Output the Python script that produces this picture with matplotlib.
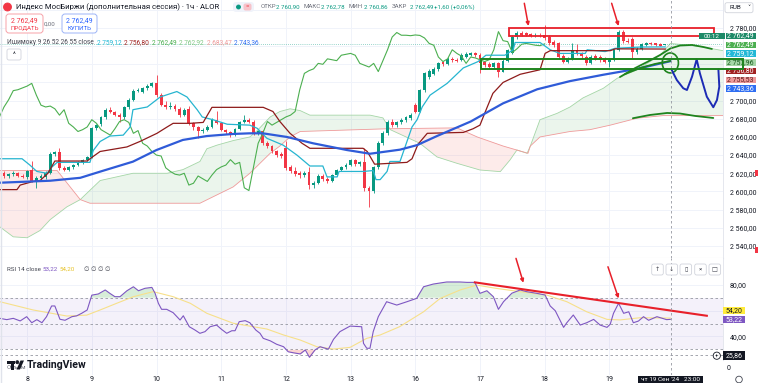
import numpy as np
import matplotlib
matplotlib.use('Agg')
import matplotlib.pyplot as plt
from matplotlib.patches import Rectangle, FancyBboxPatch, Ellipse

plt.rcParams['font.family'] = ['Roboto', 'DejaVu Sans']

# ---------------- data ----------------
opens = [2620,2617,2619,2620,2617,2616,2624,2612,2615,2616,
         2620,2641,2643,2626,2624,2627,2629,2631,2635,2638,
         2670,2674,2682,2690,2687,2684,2682,2693,2701,2711,
         2710,2714,2716,2719,2706,2695,2693,2694,2691,2684,
         2691,2675,2671,2666,2668,2671,2679,2675,2668,2665,
         2662,2669,2677,2679,2677,2664,2667,2653,2650,2644,
         2641,2648,2627,2622,2620,2618,2621,2607,2609,2617,
         2614,2611,2618,2624,2627,2629,2635,2630,2632,2604,
         2601,2627,2653,2664,2677,2673,2676,2679,2681,2695,
         2688,2712,2726,2729,2735,2742,2740,2746,2745,2745,
         2748,2750,2752,2750,2742,2740,2737,2741,2732,2744,
         2752,2770,2775,2774,2773,2772,2772,2772,2770,2765,
         2763,2749,2743,2746,2756,2752,2748,2741,2749,2748,
         2746,2743,2745,2756,2776,2766,2768,2753,2757,2761,
         2764,2763,2762,2760.90]
highs = [2622,2620,2622,2621,2619,2624,2634,2617,2619,2622,
         2643,2645,2648,2628,2628,2630,2633,2636,2639,2671,
         2674,2683,2692,2693,2689,2686,2694,2703,2713,2714,
         2715,2718,2720,2728,2708,2700,2698,2696,2693,2692,
         2694,2677,2672,2670,2673,2681,2689,2677,2669,2667,
         2670,2678,2684,2681,2679,2668,2668,2655,2651,2646,
         2643,2655,2629,2627,2622,2622,2627,2611,2619,2619,
         2616,2619,2625,2628,2631,2636,2636,2634,2648,2606,
         2628,2655,2666,2679,2680,2678,2681,2683,2686,2697,
         2713,2731,2735,2737,2743,2744,2748,2748,2747,2752,
         2753,2754,2754,2752,2744,2742,2743,2743,2746,2757,
         2772,2777,2777,2776,2775,2774,2774,2783,2772,2767,
         2765,2751,2748,2763,2762,2754,2750,2750,2751,2750,
         2748,2747,2757,2778,2778,2769,2770,2759,2763,2765,
         2765,2764,2763,2762.78]
lows = [2615,2615,2617,2616,2615,2614,2610,2604,2612,2614,
        2619,2639,2624,2622,2622,2625,2628,2630,2633,2637,
        2668,2672,2680,2686,2683,2677,2680,2691,2700,2709,
        2708,2712,2715,2704,2694,2691,2691,2689,2682,2683,
        2673,2668,2659,2664,2666,2670,2674,2666,2663,2660,
        2661,2668,2675,2675,2662,2662,2651,2648,2642,2638,
        2637,2624,2620,2617,2615,2616,2603,2604,2608,2612,
        2609,2610,2617,2622,2625,2628,2628,2628,2601,2583,
        2598,2625,2651,2662,2671,2671,2674,2677,2679,2686,
        2687,2710,2724,2728,2733,2738,2739,2743,2742,2744,
        2747,2749,2748,2730,2737,2735,2735,2726,2731,2743,
        2751,2768,2771,2771,2770,2770,2770,2767,2761,2759,
        2746,2741,2741,2745,2750,2747,2739,2740,2745,2743,
        2741,2737,2744,2755,2764,2763,2747,2751,2756,2760,
        2761,2760,2760,2760.86]
closes = [2617,2619,2620,2617,2616,2622,2612,2615,2617,2620,
          2641,2643,2626,2624,2627,2629,2632,2635,2638,2670,
          2673,2682,2690,2688,2684,2682,2693,2701,2711,2712,
          2714,2716,2719,2706,2695,2693,2694,2691,2684,2690,
          2675,2671,2666,2668,2671,2679,2675,2668,2665,2662,
          2669,2677,2679,2676,2664,2667,2653,2650,2644,2640,
          2639,2626,2622,2619,2618,2620,2607,2609,2617,2614,
          2611,2618,2624,2627,2629,2635,2630,2632,2604,2601,
          2627,2653,2664,2677,2673,2676,2679,2682,2684,2688,
          2712,2730,2733,2735,2741,2740,2746,2745,2744,2750,
          2751,2752,2750,2741,2739,2737,2741,2732,2744,2756,
          2770,2775,2772,2772,2771.5,2772.3,2771.8,2769,2763,2761,
          2748,2743,2746,2756,2752,2749,2741,2748,2747,2745,
          2743,2745,2756,2776,2766,2765,2753,2757,2762,2763,
          2762,2761,2760.5,2762.49]

day_starts = [5, 19, 33, 47, 61, 75, 89, 103, 117, 131]
day_labels = ['8', '9', '10', '11', '12', '13', '16', '17', '18', '19']

# Ichimoku lines (vertices: bar index, price)
tenkan_i = [-0.9,3.9,5.6,7.1,9.3,10.4,11.5,18.6,19.3,20.8,22.9,25.8,27.3,27.9,31,33.8,37.4,39.6,41.8,42.9,45.2,48.3,53.2,54.8,56.9,60.4,63.4,66.2,69,69.9,72.1,72.5,77.7,79.9,80.5,81.4,82.9,83.5,85.7,88.3,89.4,90.5,92.2,95.9,99.4,102.6,104.3,108.4,110.2,110.6,116,118.2,120.3,125.8,126.2,130.1,132.2,137.7,143.1]
tenkan_v = [2636,2636,2629,2622,2620,2627,2632,2632,2645,2655,2661,2662,2671,2690,2693,2704,2710,2704,2690,2682,2679,2674,2673,2669.5,2658.5,2651,2640,2628,2628,2616,2616,2622,2622,2623,2613,2613,2622,2633,2633,2671,2679,2693,2706,2719,2736,2743,2750,2750,2756,2764,2764,2756,2752,2752,2756,2754,2757.6,2759,2759.12]
kijun_i = [-0.9,2.8,3.5,6.3,7.8,9.5,11,18,18.6,20.8,26.6,29.4,33.1,35.3,36.6,40.3,43.1,45,56.1,58.2,59.7,61.9,64.5,66.2,77.7,78.6,80.2,87.2,88.3,89.6,91.6,99.4,101.5,103,104.5,105.8,108,111.7,116,117.1,118.2,131.2,132.3,143.1]
kijun_v = [2602,2602,2607,2611,2612,2620,2633.5,2633.5,2636,2644,2649,2655,2664,2671,2675,2675,2676,2692.6,2692.6,2688,2677,2664,2653,2647.5,2647.5,2644,2630,2632,2636,2652,2664,2665,2669,2673,2692,2708,2720,2729,2734,2752,2755,2755,2757,2756.8]
span_a_i = [-0.9,2,5,7.8,10,13.6,16.5,17.1,20.8,27.9,35.3,38.7,42.4,43.9,46.1,49.6,53.2,54.8,57.6,59.7,61.9,64.1,66.2,79.2,82,83.6,90,93.7,98,103,107.4,109.5,111,113.2,113.9,116,119.7,122.5,125.3,129.7,132.7,137,142,144.2,148.5,151.3,155.6]
span_a_v = [2561,2550,2549,2557,2569,2583,2591,2594,2612,2620,2620,2624,2633,2647,2651,2656,2660,2667,2682,2688,2691,2689,2684,2684,2681,2668,2653,2638,2631,2623.6,2621.8,2634.6,2645.6,2642,2650,2679,2686,2693,2703,2713.6,2724.6,2734,2750,2762.9,2761,2759,2755]
span_b_i = [-0.9,11.5,16.5,18.6,42.4,45.2,49.6,53.2,55.4,57.6,59.7,61.9,64.1,82.9,98,102.4,108,113.4,113.9,116,122.5,126.8,131.2,137,142.6,155.6]
span_b_v = [2623,2623,2591,2587,2587,2594,2605,2620,2631,2642,2650,2660,2666,2669,2670,2660,2650,2642,2650,2660,2666,2668,2673,2680.6,2683.5,2683.5]
ma_i = [-0.9,10,16.5,20.8,27.9,33,38.7,43.9,49.6,53.2,56,61.2,66.9,74.2,79.2,85.7,89.4,93.7,101,108,115.4,122.5,129.7,137,144.2]
ma_v = [2609.6,2611.8,2615,2621.8,2632.8,2645.6,2656.7,2661,2663.3,2664,2664,2660,2653,2645.6,2641.5,2646,2651,2661,2677,2697,2712.5,2721.5,2728.5,2735,2743.4]

# RSI 14 and its MA
rsi_i = [-0.9,0.6,2.0,3.5,4.9,6.0,7.1,8.2,9.2,10.3,11.0,12.1,13.2,14.7,15.7,16.8,18.0,19.0,20.4,21.9,22.9,24.0,25.1,26.6,28.0,29.1,30.5,32.0,32.7,33.4,34.1,35.2,36.6,38.1,38.8,40.1,41.3,42.4,43.5,44.6,46.0,47.1,48.2,49.3,50.0,50.9,52.2,53.2,54.5,55.4,56.1,57.6,59.0,60.5,61.5,62.6,64.1,65.2,66.1,67.3,68.4,70.2,71.3,72.7,74.9,77.4,77.8,78.5,79.2,79.9,81.0,82.8,85.0,87.2,89.3,90.8,92.9,95.8,98.7,100.2,101.9,103.0,104.5,105.9,107.0,108.1,109.9,111.7,113.1,115.3,117.1,118.2,119.3,121.1,121.8,123.2,124.7,126.1,127.6,129.0,130.5,131.2,131.9,133.0,134.1,135.2,136.2,137.3,138.4,139.5,141.3,143.4,144.2]
rsi_v = [54,53,54,52,55.3,50.6,53,50.6,55.3,63.6,63.6,53.3,52.5,55.3,55.9,57.9,60.5,72,72.9,76,73.4,70.8,70.8,75.4,78.5,75.4,77.3,78,73.4,65.7,61,61,58.4,52.7,56,47.5,45,42.4,43.7,47.5,48.8,45.4,42.4,44.4,44.4,51.4,52.2,50.6,44.9,42.4,38.5,36.6,33.9,32,28.1,27.3,26.4,29.5,23.8,29.5,32,30.1,37.7,43.7,48,47.5,34.6,30.8,30.8,43.7,55.3,66.9,64.3,66.9,69.5,78.5,80.6,82.2,82.2,81.9,81.9,73.4,75.4,70.8,61,66.9,73.5,76,74.7,73.4,72.1,63.6,59.9,47,50.6,56.6,48.8,50.6,53.2,48.8,47,49.5,57.9,65.7,57.9,59.1,50.6,51.9,55.3,52.5,55.3,53,53.22]
rsima_i = [-0.9,6.3,13.6,17.9,20.8,24.4,28,32.3,36.6,40.3,43.9,49.6,56.9,60.5,64.1,67.7,71.3,74.9,78.5,81.4,85.6,90.8,94.4,98.7,102.3,106.4,111.7,117.5,121.8,126.1,130.5,133.4,137.7,144.2]
rsima_v = [66.9,60.5,55.8,56.5,60.5,65.7,70.8,74.7,70.8,65.7,57.9,50.2,45.7,41.1,37.2,32,30.2,31.5,38.5,41.1,47.5,59.1,69.5,76,79.8,77.3,74.7,72,66.9,59.1,53.2,52.8,54.5,54.2]

# user drawings (bar index, price / rsi)
red_box = (109.3, 2771.5, 153.7, 2779.7)
green_box = (103.2, 2735.3, 160.0, 2746.2)
price_arrows = [((112.6, 2807.2), (113.5, 2782.2)), ((131.5, 2807.2), (133.0, 2782.2))]
rsi_arrows = [((110.8, 100.5), (112.4, 81.6)), ((130.7, 94.0), (133.0, 69.5))]
rsi_trend = ([101.9, 152.1], [81.9, 56.0])
green_upper = ([133.3,136.6,139.2,142.0,144.2,146.3,148.9,151.3,153.2],
               [2726.0,2735.9,2742.6,2750.3,2757.4,2760.7,2761.3,2759.1,2756.9])
green_lower = ([134.4,137.7,140.9,144.2], [2729.3,2735.9,2740.4,2743.7])
green_bottom = ([136.1,139.8,143.5,146.3,149.6,153.5], [2680.6,2684.2,2686.4,2685.8,2683.1,2680.9])
green_circle = (144.2, 2741.5, 3.5, 22)
blue_path = ([144.5,145.6,147.0,147.8,148.9,149.9,150.6,152.1,153.5,154.3,154.8,154.6],
             [2733.7,2722.7,2713.6,2711.7,2726.4,2745.5,2730.1,2704.3,2692.7,2700.7,2715.4,2734.5])
cursor_bar = 144.4
last_price = 2762.49

# ---------------- figure ----------------
W, H = 758, 383
fig = plt.figure(figsize=(W / 100, H / 100), dpi=100)
fig.patch.set_facecolor('white')


def fx(x):
    return x / W


def fy(y):
    return 1 - y / H


XL = (-0.87, 155.6)
UP, DN = '#089981', '#f23645'
GRID = '#f0f3fa'
TXT = '#131722'
GRAY = '#6a6d78'
RED = '#e8202a'
DGREEN = '#1e841e'

ax = fig.add_axes([0, fy(258), 723 / W, 258 / H])
rax = fig.add_axes([0, fy(360), 723 / W, 102 / H])
vax = fig.add_axes([0, fy(375), 723 / W, 15 / H])

for a in (ax, rax, vax):
    a.set_xlim(*XL)
    a.set_facecolor('white')
    for s in a.spines.values():
        s.set_visible(False)
    for d in day_starts:
        a.axvline(d, color=GRID, lw=0.7, zorder=0)
    a.axvline(cursor_bar, color='#9598a1', lw=0.6, ls=(0, (3, 3)), zorder=6)

# ---- main price pane ----
ax.set_ylim(2526.7, 2810.8)
for p in range(2540, 2801, 20):
    ax.axhline(p, color=GRID, lw=0.7, zorder=0)
ax.spines['bottom'].set_visible(True)
ax.spines['bottom'].set_color('#e0e3eb')
ax.spines['bottom'].set_linewidth(0.8)
ax.spines['right'].set_visible(True)
ax.spines['right'].set_color('#e0e3eb')
ax.spines['right'].set_linewidth(0.6)
ax.yaxis.tick_right()
yt = [2540, 2560, 2580, 2600, 2620, 2640, 2660, 2680, 2700, 2780]
ax.set_yticks(yt)
ax.set_yticklabels([f"{v:,.2f}".replace(',', ' ').replace('.', ',') for v in yt])
ax.tick_params(axis='y', length=0, pad=5, labelsize=5, labelcolor=TXT)
ax.set_xticks([])

# cloud
xs = np.linspace(-0.9, 155.6, 3000)
sa = np.interp(xs, span_a_i, span_a_v)
sb = np.interp(xs, span_b_i, span_b_v)
ax.fill_between(xs, sa, sb, where=sa >= sb, color='#43a047', alpha=0.10, lw=0, interpolate=True, zorder=1)
ax.fill_between(xs, sa, sb, where=sa < sb, color='#f44336', alpha=0.10, lw=0, interpolate=True, zorder=1)
ax.plot(span_a_i, span_a_v, color='#a5d6a7', lw=0.6, zorder=1.5)
ax.plot(span_b_i, span_b_v, color='#ef9a9a', lw=0.6, zorder=1.5)

# candles
idx = np.arange(len(closes))
o = np.array(opens); c = np.array(closes); h = np.array(highs); l = np.array(lows)
cols = np.where(c >= o, UP, DN)
ax.vlines(idx, l, h, colors=cols, lw=0.6, zorder=2)
ax.bar(idx, np.maximum(np.abs(c - o), 0.7), bottom=np.minimum(o, c), width=0.62, color=cols, lw=0, zorder=2.1)

# lines
ax.plot(idx - 26, closes, color='#4caf50', lw=0.8, zorder=3)
ax.plot(tenkan_i, tenkan_v, color='#26b5d0', lw=0.9, zorder=3)
ax.plot(kijun_i, kijun_v, color='#8e1b1b', lw=0.9, zorder=3)
ax.plot(ma_i, ma_v, color='#2f5bd8', lw=1.6, zorder=3.2)
ax.axhline(last_price, color=UP, lw=0.5, ls=(0, (1, 2)), alpha=0.8, zorder=2)

# drawings
x0, y0, x1, y1 = red_box
ax.add_patch(Rectangle((x0, y0), x1 - x0, y1 - y0, fill=False, ec=RED, lw=1.3, zorder=5))
gx0, gy0, gx1, gy1 = green_box
fig.add_artist(Rectangle((gx0, gy0), gx1 - gx0, gy1 - gy0, fill=False, ec=DGREEN, lw=1.4,
                         transform=ax.transData, zorder=6))
for (s, e) in price_arrows:
    ax.annotate('', xy=e, xytext=s, annotation_clip=False,
                arrowprops=dict(arrowstyle='-|>', color=RED, lw=1.1, mutation_scale=5, shrinkA=0, shrinkB=0),
                zorder=6)
ax.plot(*green_upper, color=DGREEN, lw=1.3, zorder=5, solid_capstyle='round')
ax.plot(*green_lower, color=DGREEN, lw=1.3, zorder=5, solid_capstyle='round')
ax.plot(*green_bottom, color=DGREEN, lw=1.3, zorder=5, solid_capstyle='round')
cx, cy, cw, ch = green_circle
ax.add_patch(Ellipse((cx, cy), cw, ch, fill=False, ec=DGREEN, lw=1.2, zorder=5))
ax.plot(*blue_path, color='#1c2bb5', lw=1.4, zorder=5, solid_capstyle='round', solid_joinstyle='round')

# ---- RSI pane ----
rax.set_ylim(21.7, 100.8)
for v in (80, 60, 40):
    rax.axhline(v, color=GRID, lw=0.7, zorder=0)
rax.axhspan(30, 70, color='#7e57c2', alpha=0.08, lw=0, zorder=0.5)
for v in (70, 50, 30, 25.86):
    rax.axhline(v, color='#9598a1', lw=0.6, ls=(0, (3, 3)), zorder=1)
xr = np.linspace(rsi_i[0], rsi_i[-1], 3000)
rr = np.interp(xr, rsi_i, rsi_v)
rax.fill_between(xr, 70, rr, where=rr > 70, color='#4caf50', alpha=0.22, lw=0, interpolate=True, zorder=1.5)
rax.fill_between(xr, 30, rr, where=rr < 30, color='#f44336', alpha=0.22, lw=0, interpolate=True, zorder=1.5)
rax.plot(rsima_i, rsima_v, color='#f7e08a', lw=0.8, zorder=2)
rax.plot(rsi_i, rsi_v, color='#7e57c2', lw=0.8, zorder=3)
rax.plot(*rsi_trend, color=RED, lw=1.5, zorder=5)
for (s, e) in rsi_arrows:
    rax.annotate('', xy=e, xytext=s, annotation_clip=False,
                 arrowprops=dict(arrowstyle='-|>', color=RED, lw=1.1, mutation_scale=5, shrinkA=0, shrinkB=0),
                 zorder=6)
rax.spines['bottom'].set_visible(True)
rax.spines['bottom'].set_color('#e0e3eb')
rax.spines['bottom'].set_linewidth(0.8)
rax.spines['right'].set_visible(True)
rax.spines['right'].set_color('#e0e3eb')
rax.spines['right'].set_linewidth(0.6)
rax.yaxis.tick_right()
rax.set_yticks([40, 80])
rax.set_yticklabels(['40,00', '80,00'])
rax.tick_params(axis='y', length=0, pad=5, labelsize=5, labelcolor=TXT)
rax.set_xticks([])

# ---- volume pane / time axis ----
vax.set_ylim(0, 1)
vax.set_yticks([])
vax.set_xticks(day_starts)
vax.set_xticklabels(day_labels)
vax.tick_params(axis='x', length=0, pad=0.8, labelsize=5, labelcolor=TXT)

# ---------------- text & overlays in pixel coordinates ----------------

def t(x, y, s, size=4.8, color=TXT, ha='left', va='center', weight='normal', z=8):
    fig.text(fx(x), fy(y), s, fontsize=size, color=color, ha=ha, va=va, fontweight=weight, zorder=z)


def box(x0, y0, x1, y1, fc='white', ec='none', lw=0.6, z=7, r=0.0):
    if r > 0:
        p = FancyBboxPatch((fx(x0), fy(y1)), (x1 - x0) / W, (y1 - y0) / H,
                           boxstyle=f'round,pad=0,rounding_size={r / W}', mutation_aspect=W / H,
                           transform=fig.transFigure, fc=fc, ec=ec, lw=lw, zorder=z)
    else:
        p = Rectangle((fx(x0), fy(y1)), (x1 - x0) / W, (y1 - y0) / H,
                      transform=fig.transFigure, fc=fc, ec=ec, lw=lw, zorder=z)
    fig.add_artist(p)


def dot(x, y, rad, color, z=8, fill=True, lw=0.6):
    fig.add_artist(Ellipse((fx(x), fy(y)), 2 * rad / W, 2 * rad / H, transform=fig.transFigure,
                           fc=color if fill else 'white', ec=color, lw=lw, zorder=z))


# header line
dot(7.5, 7, 4, '#f23645')
t(16, 7, 'Индекс МосБиржи (дополнительная сессия) · 1ч · ALOR', size=5.6)
box(233, 2, 254, 12, fc='#f0f3fa', r=3, z=7)
dot(238.5, 7, 2, UP)
box(243.5, 3.5, 251.5, 10.5, fc='#f7c3ca', r=2, z=8)
t(247.5, 7, '=', size=4.5, color='#f23645', ha='center', z=9)
ohlc = [(261, 'ОТКР', GRAY), (276.5, '2 760,90', UP), (303.5, 'МАКС', GRAY), (321, '2 762,78', UP),
        (348.5, 'МИН', GRAY), (363.5, '2 760,86', UP), (391.5, 'ЗАКР', GRAY), (409.5, '2 762,49', UP),
        (434, '+1,60 (+0,06%)', UP)]
for x, s, col in ohlc:
    t(x, 7, s, size=4.4, color=col)

# sell / buy
box(6, 14, 43, 33, fc='white', ec='#f7a1a8', lw=0.7, r=3)
t(24.5, 20.5, '2 762,49', size=5.0, color='#f23645', ha='center')
t(24.5, 28, 'ПРОДАТЬ', size=4.4, color='#f23645', ha='center')
t(50, 24, '0,00', size=4.4, color=GRAY, ha='center')
box(62, 14, 97, 33, fc='white', ec='#9db4f7', lw=0.7, r=3)
t(79.5, 20.5, '2 762,49', size=5.0, color='#2962ff', ha='center')
t(79.5, 28, 'КУПИТЬ', size=4.4, color='#2962ff', ha='center')

# ichimoku legend
t(7, 42.3, 'Ишимоку 9 26 52 26 55 close', size=4.7, color='#434651')
for x, s, col in [(97, '2 759,12', '#22b8d6'), (124, '2 756,80', '#a12222'), (151.7, '2 762,49', '#4caf50'),
                  (179.3, '2 762,92', '#81c784'), (206.7, '2 683,47', '#ef9a9a'), (234.3, '2 743,36', '#2f6ef2')]:
    t(x, 42.3, s, size=4.7, color=col)
box(7, 49, 21, 60, fc='white', ec='#d1d4dc', lw=0.6, r=2)
t(14, 55.5, '^', size=4.8, ha='center')

# RUB selector
box(725, 2.7, 753, 12.7, fc='white', ec='#d1d4dc', lw=0.6, r=2)
t(729, 7.7, 'RUB', size=4.6)
t(748.5, 7.7, '˅', size=4.5, ha='center')

# price scale labels
right_labels = [(36.0, '2 762,49', '#1d8a68', 'white'),
                (45.0, '2 762,49', '#4caf50', 'white'),
                (53.3, '2 759,12', '#22b8d6', 'white'),
                (62.3, '2 757,96', '#a5d6a7', '#1b5e20'),
                (71.0, '2 756,80', '#a12222', 'white'),
                (80.0, '2 755,53', '#ef9a9a', '#5d1a1a'),
                (88.3, '2 743,36', '#2f6ef2', 'white')]
for yc, s, fc, tc in right_labels:
    box(725.5, yc - 3.3, 755.5, yc + 3.3, fc=fc, z=5)
    t(740.5, yc, s, size=5.0, color=tc, ha='center', z=5.5)
box(699, 32.7, 725, 39.3, fc='#1d8a68', z=5)
t(712, 36, '00:12', size=4.6, color='white', ha='center', z=5.5)
box(755, 170, 758, 176, fc='#f23645', z=5)
box(755, 247, 758, 253, fc='#f23645', z=5)

# RSI legend & labels
t(7, 269.3, 'RSI 14 close', size=4.5, color='#434651')
t(43, 269.3, '53,22', size=4.5, color='#7e57c2')
t(60, 269.3, '54,20', size=4.5, color='#e6c229')
t(84, 269.3, '∅ ∅ ∅ ∅', size=4.5, color='#434651')
for (bx0, g) in [(651.7, '↑'), (666, '↓'), (680, '▯'), (694.7, '×'), (709, '□')]:
    box(bx0, 264, bx0 + 11.6, 275, fc='white', ec='#d1d4dc', lw=0.6, r=2)
    t(bx0 + 5.8, 269.5, g, size=4.5, ha='center', color='#434651', z=9)
box(723, 306.7, 745, 314, fc='#ffeb3b', z=5)
t(734, 310.3, '54,20', size=5.0, color=TXT, ha='center', z=5.5)
box(723, 315.7, 745, 323.3, fc='#7e57c2', z=5)
t(734, 319.5, '53,22', size=5.0, color='white', ha='center', z=5.5)
box(723, 351, 745, 360, fc='#131722', z=5)
t(734, 355.7, '25,86', size=5.0, color='white', ha='center', z=5.5)
dot(716.8, 355.7, 3.6, '#131722', fill=False, lw=0.6)
t(716.8, 355.9, '+', size=4.4, ha='center', z=9)

# volume pane / bottom
t(7, 367.5, 'Объем', size=4.5, color=GRAY)
t(727, 368, '0', size=5)
box(7, 360.5, 15, 363.5, fc=TXT, z=9)
box(10.5, 360.5, 14, 369.5, fc=TXT, z=9)
dot(17.3, 362.2, 1.5, TXT, z=9)
fig.add_artist(plt.Polygon([(fx(16.5), fy(369.5)), (fx(20), fy(369.5)), (fx(24), fy(360.5)), (fx(20.5), fy(360.5))],
                           closed=True, transform=fig.transFigure, fc=TXT, ec='none', zorder=9))
t(27, 365, 'TradingView', size=7.6, weight='bold', z=9)
box(638, 375.5, 703, 386, fc='#131722', z=9)
t(670.5, 379.5, "чт 19 Сен '24   23:00", size=4.6, color='white', ha='center', z=10)
dot(739, 379.5, 3.3, '#434651', fill=False, lw=0.6)

fig.add_artist(plt.Line2D([fx(0.6), fx(0.6)], [0, 1], transform=fig.transFigure, color='#e0e3eb', lw=1.0, zorder=9))

fig.savefig('out.png', dpi=100, facecolor='white')
